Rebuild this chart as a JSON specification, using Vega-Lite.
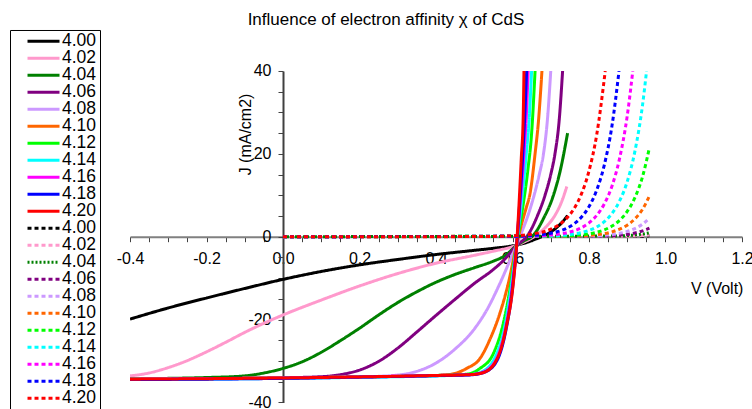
{
 "$schema": "https://vega.github.io/schema/vega-lite/v6.json",
 "width": 612, "height": 331.4,
 "autosize": {"type": "none"},
 "padding": {"left": 130, "top": 71, "right": 10, "bottom": 7},
 "background": "white",
 "config": {"view": {"stroke": null}, "font": "Liberation Sans"},
 "title": {"text": "Influence of electron affinity χ of CdS", "fontSize": 17, "fontWeight": "normal", "font": "Liberation Sans", "color": "black", "anchor": "middle", "frame": "group", "dx": -50, "offset": 0},
 "data": {"values": [
 {"s":"s400","V":-0.4,"J":-19.9},{"s":"s400","V":-0.3,"J":-17.2},{"s":"s400","V":-0.2,"J":-14.8},{"s":"s400","V":-0.1,"J":-12.5},{"s":"s400","V":0,"J":-10.3},{"s":"s400","V":0.1,"J":-8.4},{"s":"s400","V":0.2,"J":-6.8},{"s":"s400","V":0.3,"J":-5.5},{"s":"s400","V":0.4,"J":-4.3},{"s":"s400","V":0.5,"J":-3.3},{"s":"s400","V":0.55,"J":-2.8},{"s":"s400","V":0.6,"J":-2.2},{"s":"s400","V":0.63,"J":-1.6},{"s":"s400","V":0.66,"J":-0.6},{"s":"s400","V":0.69,"J":0.6},{"s":"s400","V":0.71,"J":1.8},{"s":"s400","V":0.73,"J":3.5},{"s":"s400","V":0.744,"J":5.1},
 {"s":"s402","V":-0.4,"J":-33.6},{"s":"s402","V":-0.35,"J":-32.9},{"s":"s402","V":-0.3,"J":-31.6},{"s":"s402","V":-0.25,"J":-29.9},{"s":"s402","V":-0.2,"J":-27.8},{"s":"s402","V":-0.15,"J":-25.5},{"s":"s402","V":-0.1,"J":-23.1},{"s":"s402","V":-0.05,"J":-20.9},{"s":"s402","V":0,"J":-18.9},{"s":"s402","V":0.1,"J":-15.3},{"s":"s402","V":0.2,"J":-11.9},{"s":"s402","V":0.3,"J":-8.9},{"s":"s402","V":0.4,"J":-6.4},{"s":"s402","V":0.5,"J":-4.5},{"s":"s402","V":0.55,"J":-3.5},{"s":"s402","V":0.6,"J":-2.4},{"s":"s402","V":0.63,"J":-1.3},{"s":"s402","V":0.66,"J":0.2},{"s":"s402","V":0.69,"J":2.6},{"s":"s402","V":0.71,"J":5.0},{"s":"s402","V":0.73,"J":8.8},{"s":"s402","V":0.742,"J":12.1},
 {"s":"s404","V":-0.4,"J":-34.3},{"s":"s404","V":-0.3,"J":-34.2},{"s":"s404","V":-0.2,"J":-34.0},{"s":"s404","V":-0.1,"J":-33.6},{"s":"s404","V":-0.05,"J":-32.9},{"s":"s404","V":0,"J":-31.8},{"s":"s404","V":0.05,"J":-30.2},{"s":"s404","V":0.1,"J":-27.9},{"s":"s404","V":0.15,"J":-25.1},{"s":"s404","V":0.2,"J":-22.1},{"s":"s404","V":0.25,"J":-18.9},{"s":"s404","V":0.3,"J":-15.9},{"s":"s404","V":0.35,"J":-13.3},{"s":"s404","V":0.4,"J":-11.0},{"s":"s404","V":0.45,"J":-9.1},{"s":"s404","V":0.5,"J":-7.5},{"s":"s404","V":0.55,"J":-5.9},{"s":"s404","V":0.58,"J":-4.6},{"s":"s404","V":0.61,"J":-2.2},{"s":"s404","V":0.63,"J":-1.0},{"s":"s404","V":0.655,"J":0.4},{"s":"s404","V":0.68,"J":4.2},{"s":"s404","V":0.707,"J":10},{"s":"s404","V":0.725,"J":16},{"s":"s404","V":0.744,"J":25},
 {"s":"s406","V":-0.4,"J":-34.4},{"s":"s406","V":-0.2,"J":-34.25},{"s":"s406","V":0,"J":-34.05},{"s":"s406","V":0.1,"J":-33.8},{"s":"s406","V":0.15,"J":-33.3},{"s":"s406","V":0.2,"J":-32.2},{"s":"s406","V":0.25,"J":-30.1},{"s":"s406","V":0.3,"J":-26.9},{"s":"s406","V":0.35,"J":-23.0},{"s":"s406","V":0.4,"J":-19.0},{"s":"s406","V":0.45,"J":-15.1},{"s":"s406","V":0.5,"J":-11.3},{"s":"s406","V":0.55,"J":-7.9},{"s":"s406","V":0.58,"J":-5.4},{"s":"s406","V":0.61,"J":-2.2},{"s":"s406","V":0.641,"J":0.5},{"s":"s406","V":0.665,"J":5},{"s":"s406","V":0.685,"J":10},{"s":"s406","V":0.7,"J":15},{"s":"s406","V":0.711,"J":20},{"s":"s406","V":0.722,"J":28},{"s":"s406","V":0.731,"J":40},
 {"s":"s408","V":-0.4,"J":-34.4},{"s":"s408","V":0,"J":-34.1},{"s":"s408","V":0.2,"J":-33.85},{"s":"s408","V":0.3,"J":-33.4},{"s":"s408","V":0.35,"J":-32.5},{"s":"s408","V":0.4,"J":-30.5},{"s":"s408","V":0.45,"J":-27.1},{"s":"s408","V":0.5,"J":-22.3},{"s":"s408","V":0.534,"J":-17.5},{"s":"s408","V":0.567,"J":-11.3},{"s":"s408","V":0.594,"J":-5.6},{"s":"s408","V":0.61,"J":-2.2},{"s":"s408","V":0.625,"J":1.3},{"s":"s408","V":0.64,"J":5},{"s":"s408","V":0.655,"J":9.5},{"s":"s408","V":0.67,"J":15},{"s":"s408","V":0.681,"J":20},{"s":"s408","V":0.692,"J":29},{"s":"s408","V":0.7,"J":40},
 {"s":"s410","V":-0.4,"J":-34.4},{"s":"s410","V":0,"J":-34.1},{"s":"s410","V":0.2,"J":-33.85},{"s":"s410","V":0.4,"J":-33.5},{"s":"s410","V":0.445,"J":-33.1},{"s":"s410","V":0.48,"J":-31.8},{"s":"s410","V":0.515,"J":-29.4},{"s":"s410","V":0.54,"J":-25.0},{"s":"s410","V":0.567,"J":-18.5},{"s":"s410","V":0.589,"J":-11.3},{"s":"s410","V":0.61,"J":-2.2},{"s":"s410","V":0.625,"J":3.5},{"s":"s410","V":0.636,"J":7},{"s":"s410","V":0.646,"J":10.5},{"s":"s410","V":0.659,"J":20},{"s":"s410","V":0.668,"J":28},{"s":"s410","V":0.677,"J":40},
 {"s":"s412","V":-0.4,"J":-34.4},{"s":"s412","V":0,"J":-34.1},{"s":"s412","V":0.2,"J":-33.85},{"s":"s412","V":0.4,"J":-33.5},{"s":"s412","V":0.48,"J":-33.2},{"s":"s412","V":0.515,"J":-31.8},{"s":"s412","V":0.55,"J":-28.2},{"s":"s412","V":0.576,"J":-20.9},{"s":"s412","V":0.593,"J":-12.9},{"s":"s412","V":0.61,"J":-2.2},{"s":"s412","V":0.625,"J":6},{"s":"s412","V":0.64,"J":16},{"s":"s412","V":0.65,"J":25},{"s":"s412","V":0.659,"J":40},
 {"s":"s414","V":-0.4,"J":-34.5},{"s":"s414","V":0,"J":-34.2},{"s":"s414","V":0.2,"J":-33.95},{"s":"s414","V":0.4,"J":-33.6},{"s":"s414","V":0.49,"J":-33.3},{"s":"s414","V":0.52,"J":-32.6},{"s":"s414","V":0.555,"J":-29},{"s":"s414","V":0.58,"J":-21.5},{"s":"s414","V":0.596,"J":-12.5},{"s":"s414","V":0.61,"J":-2.4},{"s":"s414","V":0.622,"J":7},{"s":"s414","V":0.635,"J":19},{"s":"s414","V":0.644,"J":29},{"s":"s414","V":0.65,"J":40},
 {"s":"s416","V":-0.4,"J":-34.4},{"s":"s416","V":0,"J":-34.1},{"s":"s416","V":0.2,"J":-33.85},{"s":"s416","V":0.4,"J":-33.5},{"s":"s416","V":0.49,"J":-33.3},{"s":"s416","V":0.525,"J":-32.6},{"s":"s416","V":0.558,"J":-29.5},{"s":"s416","V":0.582,"J":-22},{"s":"s416","V":0.598,"J":-13},{"s":"s416","V":0.61,"J":-2.6},{"s":"s416","V":0.62,"J":8},{"s":"s416","V":0.63,"J":20},{"s":"s416","V":0.636,"J":29},{"s":"s416","V":0.641,"J":40},
 {"s":"s418","V":-0.4,"J":-34.5},{"s":"s418","V":0,"J":-34.2},{"s":"s418","V":0.2,"J":-33.9},{"s":"s418","V":0.4,"J":-33.55},{"s":"s418","V":0.49,"J":-33.35},{"s":"s418","V":0.527,"J":-32.7},{"s":"s418","V":0.56,"J":-29.8},{"s":"s418","V":0.584,"J":-22},{"s":"s418","V":0.6,"J":-12.5},{"s":"s418","V":0.61,"J":-3},{"s":"s418","V":0.618,"J":7},{"s":"s418","V":0.627,"J":20},{"s":"s418","V":0.632,"J":29},{"s":"s418","V":0.637,"J":40},
 {"s":"s420","V":-0.4,"J":-34.4},{"s":"s420","V":0,"J":-34.1},{"s":"s420","V":0.2,"J":-33.85},{"s":"s420","V":0.4,"J":-33.5},{"s":"s420","V":0.49,"J":-33.3},{"s":"s420","V":0.524,"J":-32.8},{"s":"s420","V":0.558,"J":-29.8},{"s":"s420","V":0.584,"J":-21.7},{"s":"s420","V":0.602,"J":-11.3},{"s":"s420","V":0.61,"J":-3},{"s":"s420","V":0.616,"J":6},{"s":"s420","V":0.623,"J":19},{"s":"s420","V":0.628,"J":29},{"s":"s420","V":0.63,"J":40},
 {"s":"d400","V":0,"J":0},{"s":"d400","V":0.92,"J":0.09},{"s":"d400","V":0.94,"J":0.13},{"s":"d400","V":0.958,"J":0.2},
 {"s":"d402","V":0,"J":0},{"s":"d402","V":0.9,"J":0.12},{"s":"d402","V":0.92,"J":0.19},{"s":"d402","V":0.94,"J":0.29},{"s":"d402","V":0.958,"J":0.43},
 {"s":"d404","V":0,"J":0},{"s":"d404","V":0.88,"J":0.17},{"s":"d404","V":0.9,"J":0.27},{"s":"d404","V":0.92,"J":0.41},{"s":"d404","V":0.94,"J":0.63},{"s":"d404","V":0.958,"J":0.94},
 {"s":"d406","V":0,"J":0},{"s":"d406","V":0.84,"J":0.16},{"s":"d406","V":0.86,"J":0.24},{"s":"d406","V":0.88,"J":0.38},{"s":"d406","V":0.9,"J":0.58},{"s":"d406","V":0.92,"J":0.9},{"s":"d406","V":0.94,"J":1.39},{"s":"d406","V":0.958,"J":2.05},
 {"s":"d408","V":0,"J":0},{"s":"d408","V":0.82,"J":0.22},{"s":"d408","V":0.84,"J":0.34},{"s":"d408","V":0.86,"J":0.54},{"s":"d408","V":0.88,"J":0.83},{"s":"d408","V":0.9,"J":1.27},{"s":"d408","V":0.92,"J":1.97},{"s":"d408","V":0.94,"J":3.03},{"s":"d408","V":0.958,"J":4.49},
 {"s":"d410","V":0,"J":0},{"s":"d410","V":0.78,"J":0.21},{"s":"d410","V":0.8,"J":0.32},{"s":"d410","V":0.82,"J":0.49},{"s":"d410","V":0.84,"J":0.75},{"s":"d410","V":0.86,"J":1.17},{"s":"d410","V":0.88,"J":1.81},{"s":"d410","V":0.9,"J":2.79},{"s":"d410","V":0.92,"J":4.31},{"s":"d410","V":0.94,"J":6.63},{"s":"d410","V":0.958,"J":9.83},
 {"s":"d412","V":0,"J":0},{"s":"d412","V":0.74,"J":0.19},{"s":"d412","V":0.78,"J":0.45},{"s":"d412","V":0.8,"J":0.69},{"s":"d412","V":0.82,"J":1.07},{"s":"d412","V":0.84,"J":1.65},{"s":"d412","V":0.86,"J":2.56},{"s":"d412","V":0.88,"J":3.95},{"s":"d412","V":0.9,"J":6.1},{"s":"d412","V":0.92,"J":9.42},{"s":"d412","V":0.94,"J":14.5},{"s":"d412","V":0.958,"J":21.5},
 {"s":"d414","V":0,"J":0},{"s":"d414","V":0.7,"J":0.17},{"s":"d414","V":0.74,"J":0.41},{"s":"d414","V":0.78,"J":0.98},{"s":"d414","V":0.8,"J":1.52},{"s":"d414","V":0.82,"J":2.34},{"s":"d414","V":0.84,"J":3.62},{"s":"d414","V":0.86,"J":5.59},{"s":"d414","V":0.88,"J":8.63},{"s":"d414","V":0.9,"J":13.3},{"s":"d414","V":0.92,"J":20.6},{"s":"d414","V":0.94,"J":31.8},{"s":"d414","V":0.9505,"J":40},
 {"s":"d416","V":0,"J":0},{"s":"d416","V":0.65,"J":0.13},{"s":"d416","V":0.7,"J":0.38},{"s":"d416","V":0.74,"J":0.9},{"s":"d416","V":0.78,"J":2.15},{"s":"d416","V":0.8,"J":3.32},{"s":"d416","V":0.82,"J":5.13},{"s":"d416","V":0.84,"J":7.91},{"s":"d416","V":0.86,"J":12.2},{"s":"d416","V":0.88,"J":18.9},{"s":"d416","V":0.9,"J":29.2},{"s":"d416","V":0.9145,"J":40},
 {"s":"d418","V":0,"J":0},{"s":"d418","V":0.6,"J":0.09},{"s":"d418","V":0.65,"J":0.28},{"s":"d418","V":0.7,"J":0.83},{"s":"d418","V":0.72,"J":1.27},{"s":"d418","V":0.74,"J":1.97},{"s":"d418","V":0.76,"J":3.04},{"s":"d418","V":0.78,"J":4.7},{"s":"d418","V":0.8,"J":7.26},{"s":"d418","V":0.82,"J":11.2},{"s":"d418","V":0.84,"J":17.3},{"s":"d418","V":0.86,"J":26.7},{"s":"d418","V":0.8785,"J":40},
 {"s":"d420","V":0,"J":0},{"s":"d420","V":0.5,"J":0.02},{"s":"d420","V":0.6,"J":0.2},{"s":"d420","V":0.65,"J":0.61},{"s":"d420","V":0.7,"J":1.8},{"s":"d420","V":0.72,"J":2.79},{"s":"d420","V":0.74,"J":4.31},{"s":"d420","V":0.76,"J":6.65},{"s":"d420","V":0.78,"J":10.27},{"s":"d420","V":0.8,"J":15.87},{"s":"d420","V":0.82,"J":24.5},{"s":"d420","V":0.8425,"J":40}
 ]},
 "mark": {"type": "line", "interpolate": "monotone", "strokeWidth": 3, "clip": true},
 "encoding": {
  "x": {"field": "V", "type": "quantitative",
   "scale": {"domain": [-0.4, 1.2], "nice": false, "zero": false},
   "axis": {"orient": "bottom", "offset": -165.7, "grid": false,
    "values": [-0.4,-0.35,-0.3,-0.25,-0.2,-0.15,-0.1,-0.05,0,0.05,0.1,0.15,0.2,0.25,0.3,0.35,0.4,0.45,0.5,0.55,0.6,0.65,0.7,0.75,0.8,0.85,0.9,0.95,1.0,1.05,1.1,1.15,1.2],
    "labelExpr": "abs(datum.value*5 - round(datum.value*5)) < 0.001 ? (datum.value < -0.001 ? '-' : '') + format(abs(datum.value), '.1f') : ''",
    "labelOverlap": false, "labelFontSize": 16, "labelColor": "black", "labelFont": "Liberation Sans", "labelPadding": 9, "labelFlush": false,
    "domainColor": "#808080", "domainWidth": 2, "tickColor": "#404040", "tickWidth": 1, "tickSize": 5,
    "title": "V (Volt)", "titleFontSize": 16, "titleFontWeight": "normal", "titleColor": "black", "titleFont": "Liberation Sans",
    "titleX": 586.7, "titleY": 51.6, "titleAlign": "center", "titleBaseline": "middle"}},
  "y": {"field": "J", "type": "quantitative",
   "scale": {"domain": [-40, 40], "nice": false, "zero": false},
   "axis": {"orient": "left", "offset": -153, "grid": false,
    "values": [-40,-35,-30,-25,-20,-15,-10,-5,0,5,10,15,20,25,30,35,40],
    "labelExpr": "datum.value % 20 === 0 ? (datum.value < 0 ? '-' : '') + format(abs(datum.value), 'd') : ''",
    "labelOverlap": false, "labelFontSize": 16, "labelColor": "black", "labelFont": "Liberation Sans", "labelPadding": 7, "labelFlush": false,
    "domainColor": "#404040", "domainWidth": 2, "tickColor": "#404040", "tickWidth": 1, "tickSize": 5,
    "title": "J (mA/cm2)", "titleFontSize": 16, "titleFontWeight": "normal", "titleColor": "black", "titleFont": "Liberation Sans",
    "titleAngle": -90, "titleX": -38, "titleY": 63, "titleAlign": "center", "titleBaseline": "middle"}},
  "color": {"field": "s", "type": "nominal",
   "scale": {"domain": ["s400","s402","s404","s406","s408","s410","s412","s414","s416","s418","s420","d400","d402","d404","d406","d408","d410","d412","d414","d416","d418","d420"],
    "range": ["#000000","#FF99CC","#008000","#800080","#CC99FF","#FF6600","#00FF00","#00FFFF","#FF00FF","#0000FF","#FF0000","#000000","#FF99CC","#008000","#800080","#CC99FF","#FF6600","#00FF00","#00FFFF","#FF00FF","#0000FF","#FF0000"]},
   "legend": {"orient": "none", "legendX": -120, "legendY": -41, "direction": "vertical", "columns": 1, "title": null,
    "symbolType": "stroke", "symbolSize": 1024, "symbolStrokeWidth": 3, "clipHeight": 16.62, "rowPadding": -2.3,
    "labelFontSize": 17.5, "labelFont": "Liberation Sans", "labelColor": "black", "labelOffset": 1, "padding": 3, "symbolOffset": 13,
    "strokeColor": "black", "fillColor": "white",
    "labelExpr": "slice(datum.label, 1, 2) + '.' + slice(datum.label, 2) + '\u00a0\u00a0\u00a0\u00a0'"}},
  "strokeDash": {"field": "s", "type": "nominal",
   "scale": {"domain": ["s400","s402","s404","s406","s408","s410","s412","s414","s416","s418","s420","d400","d402","d404","d406","d408","d410","d412","d414","d416","d418","d420"],
    "range": [[1,0],[1,0],[1,0],[1,0],[1,0],[1,0],[1,0],[1,0],[1,0],[1,0],[1,0],[4,3],[4,3],[2,2],[4,3],[4,3],[4,3],[4,3],[4,3],[4,3],[4,3],[4,3]]}}
 }
}
